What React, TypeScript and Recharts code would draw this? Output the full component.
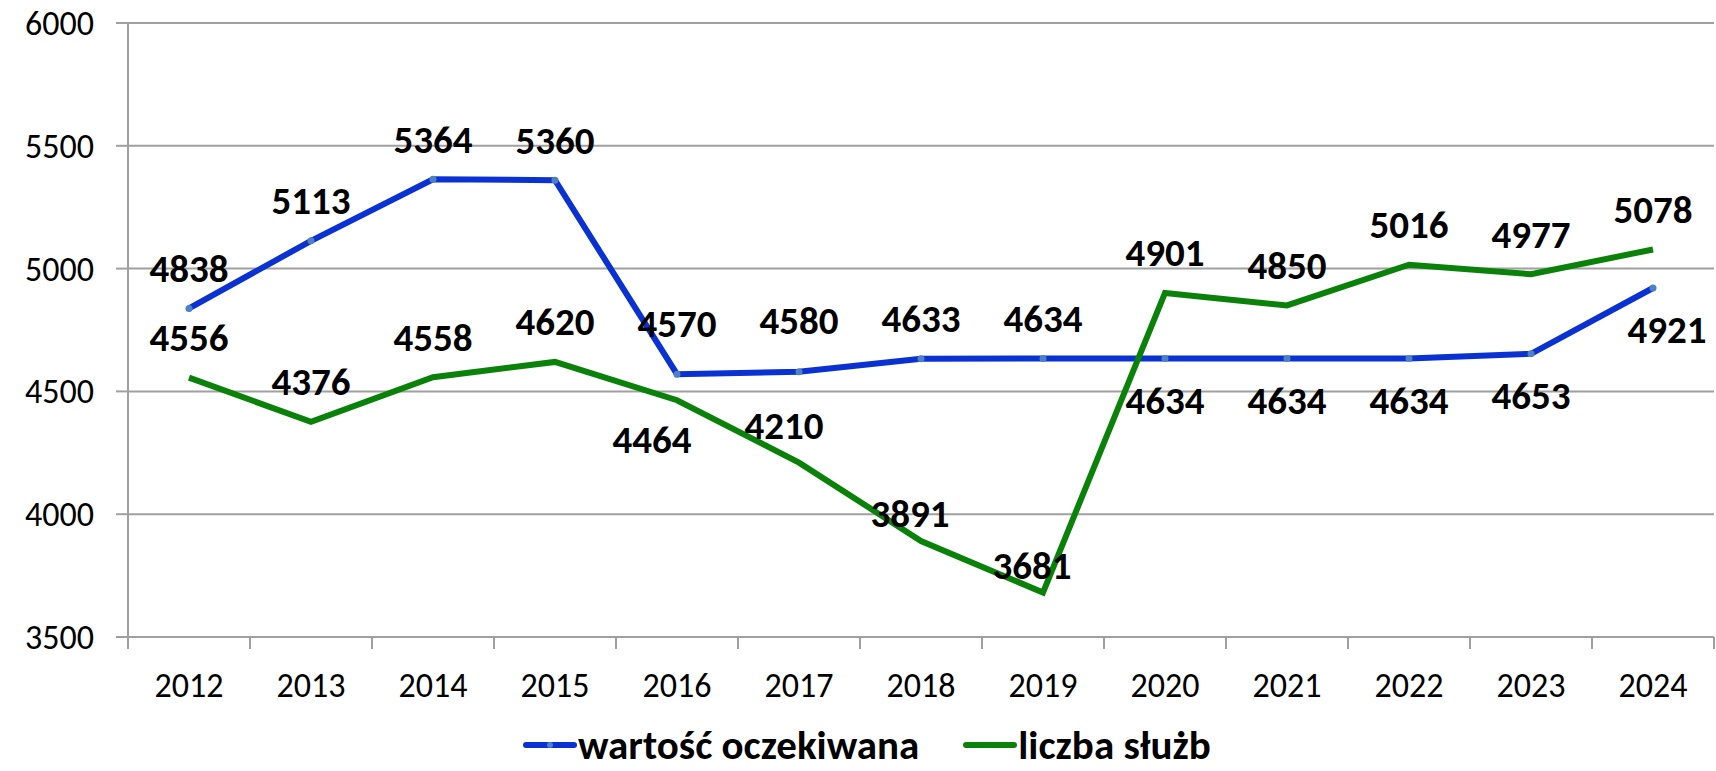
import { LineChart, Line, XAxis, YAxis, CartesianGrid, Legend, LabelList } from "recharts";

const years = ["2012", "2013", "2014", "2015", "2016", "2017", "2018", "2019", "2020", "2021", "2022", "2023", "2024"];
const expectedValues = [4838, 5113, 5364, 5360, 4570, 4580, 4633, 4634, 4634, 4634, 4634, 4653, 4921];
const serviceCounts = [4556, 4376, 4558, 4620, 4464, 4210, 3891, 3681, 4901, 4850, 5016, 4977, 5078];
const yTicks = [3500, 4000, 4500, 5000, 5500, 6000];

// where each data label sits relative to its point
const expectedLabelSide = ["above", "above", "above", "above", "aboveHigh", "aboveHigh", "above", "above", "below", "below", "below", "below", "belowRight"];
const serviceLabelSide = ["above", "above", "above", "above", "belowLeft", "aboveLeft", "onLeft", "onLeft", "above", "above", "above", "above", "above"];

const data = years.map((year, i) => ({
  year,
  expected: expectedValues[i],
  services: serviceCounts[i],
}));

const W = 1716;
const H = 771;
const MARGIN = { top: 23, right: 2, left: 0, bottom: 0 };
const Y_AXIS_W = 128;
const BAND = (W - Y_AXIS_W - MARGIN.right) / years.length;

const FONT = "Carlito, Calibri, 'Open Sans', sans-serif";
const BLUE = "#0a32d2";
const GREEN = "#0a820a";
const GRID = "#a0a0a0";

const offsets: Record<string, { dx: number; dy: number }> = {
  above: { dx: 0, dy: -40 },
  aboveHigh: { dx: 0, dy: -51 },
  below: { dx: 0, dy: 42 },
  belowRight: { dx: 14, dy: 41 },
  belowLeft: { dx: -25, dy: 39 },
  aboveLeft: { dx: -15, dy: -37 },
  onLeft: { dx: -11, dy: -27 },
};

const makeLabel = (sides: string[]) => (props: any) => {
  const { x, y, value, index } = props;
  const o = offsets[sides[index]] || offsets.above;
  return (
    <text
      x={x + o.dx}
      y={y + o.dy}
      textAnchor="middle"
      dominantBaseline="central"
      fontFamily={FONT}
      fontWeight={700}
      fontSize={39}
      fill="#000"
    >
      {value}
    </text>
  );
};

function YearTick(props: any) {
  const { x, y, payload, index } = props;
  const left = x - BAND / 2;
  return (
    <g>
      <line x1={left} y1={y} x2={left} y2={y + 12} stroke={GRID} strokeWidth={2} />
      {index === years.length - 1 && (
        <line x1={x + BAND / 2} y1={y} x2={x + BAND / 2} y2={y + 12} stroke={GRID} strokeWidth={2} />
      )}
      <text x={x} y={y + 48} textAnchor="middle" dominantBaseline="central" fontFamily={FONT} fontSize={34} fill="#000">
        {payload.value}
      </text>
    </g>
  );
}

function LegendContent() {
  const item = (color: string, label: string, marker: boolean) => (
    <div style={{ display: "flex", alignItems: "center" }}>
      <svg width={54} height={12}>
        <line x1={3} y1={6} x2={51} y2={6} stroke={color} strokeWidth={6} strokeLinecap="round" />
        {marker && <circle cx={27} cy={6} r={3} fill="#4f7fc4" />}
      </svg>
      <span style={{ fontFamily: FONT, fontWeight: 700, fontSize: 41, lineHeight: 1, color: "#000", marginLeft: 1 }}>{label}</span>
    </div>
  );
  return (
    <div style={{ height: 80, display: "flex", alignItems: "center", paddingTop: 28, paddingLeft: 523, gap: 44, boxSizing: "border-box" }}>
      {item(BLUE, "wartość oczekiwana", true)}
      {item(GREEN, "liczba służb", false)}
    </div>
  );
}

export default function App() {
  return (
    <div style={{ position: "absolute", left: 0, top: 0, background: "#fff" }}>
      <LineChart width={W} height={H} data={data} margin={MARGIN}>
        <CartesianGrid vertical={false} stroke={GRID} strokeWidth={2} />
        <XAxis
          dataKey="year"
          scale="band"
          height={54}
          axisLine={{ stroke: GRID, strokeWidth: 2 }}
          tickLine={false}
          tickSize={0}
          tickMargin={0}
          interval={0}
          tick={<YearTick />}
        />
        <YAxis
          width={Y_AXIS_W}
          domain={[3500, 6000]}
          ticks={yTicks}
          axisLine={{ stroke: GRID, strokeWidth: 2 }}
          tickLine={{ stroke: GRID, strokeWidth: 2 }}
          tickSize={12}
          tickMargin={22}
          tick={{ fontFamily: FONT, fontSize: 34, fill: "#000" }}
        />
        <Legend verticalAlign="bottom" height={80} content={<LegendContent />} />
        <Line
          type="linear"
          dataKey="expected"
          stroke={BLUE}
          strokeWidth={6}
          dot={{ r: 3.5, fill: "#4f7fc4", stroke: "none" }}
          activeDot={false}
          isAnimationActive={false}
        >
          <LabelList dataKey="expected" content={makeLabel(expectedLabelSide)} />
        </Line>
        <Line
          type="linear"
          dataKey="services"
          stroke={GREEN}
          strokeWidth={6}
          dot={false}
          activeDot={false}
          isAnimationActive={false}
        >
          <LabelList dataKey="services" content={makeLabel(serviceLabelSide)} />
        </Line>
      </LineChart>
    </div>
  );
}
